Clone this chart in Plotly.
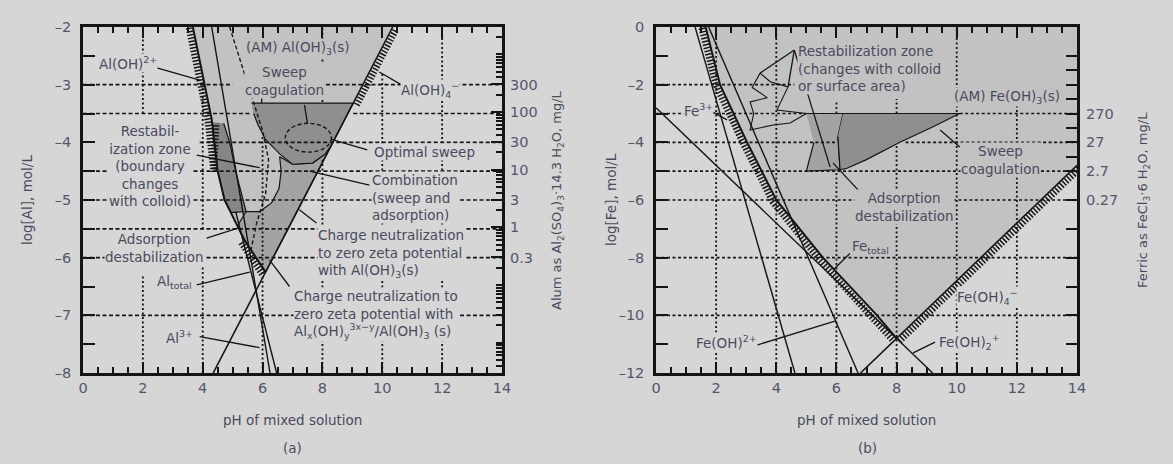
import numpy as np
import plotly.graph_objects as go

# ---------------- DATA ----------------
ph_ticks = [0, 2, 4, 6, 8, 10, 12, 14]
a_log_ticks = [-8, -7, -6, -5, -4, -3, -2]
b_log_ticks = [-12, -10, -8, -6, -4, -2, 0]

alum_mg_labels = [300, 100, 30, 10, 3, 1, 0.3]
ferric_mg_labels = [270, 27, 2.7, 0.27]
ALUM_MW = 594.4      # Al2(SO4)3.14.3H2O, 2 Al per formula unit
FERRIC_MW = 270.3    # FeCl3.6H2O

# panel (a) aluminium
a_left_ph = [3.67, 4.05, 4.30, 4.50, 4.73, 5.40, 6.10]
a_left_log = [-2.0, -3.0, -3.6, -4.5, -5.0, -5.7, -6.25]
a_aloh4_ph = [4.35, 10.35]
a_aloh4_log = [-8.0, -2.0]
a_al3_ph = [4.30, 6.25]
a_al3_log = [-2.0, -8.0]
a_altot_ph = [5.10, 6.47]
a_altot_log = [-5.2, -8.0]
a_sweep_ph = [5.63, 9.03, 8.30, 8.10, 7.67, 7.00, 6.57, 6.10, 5.85, 5.70]
a_sweep_log = [-3.32, -3.32, -4.05, -4.20, -4.36, -4.38, -4.20, -3.95, -3.70, -3.50]
a_comb_ph = [8.30, 6.10, 5.40, 5.16, 5.45, 5.90, 6.30, 6.55, 6.62, 6.57, 7.00, 7.67, 8.10]
a_comb_log = [-4.05, -6.25, -5.70, -5.45, -5.20, -5.20, -5.05, -4.80, -4.50, -4.25, -4.38, -4.36, -4.20]
a_restab_ph = [4.32, 4.50, 4.73, 4.95, 5.45, 5.10, 4.90, 4.70]
a_restab_log = [-3.67, -4.50, -5.00, -5.22, -5.20, -4.50, -4.00, -3.67]
a_cn_ph = [4.90, 5.50, 6.00, 6.20, 6.10, 5.80, 5.60]
a_cn_log = [-2.0, -3.0, -3.8, -4.3, -4.9, -5.4, -5.9]
a_opt_center = (7.53, -3.92)
a_opt_radius = (0.77, 0.25)

# panel (b) iron
b_left_ph = [1.65, 2.13, 3.03, 4.00, 5.55, 6.45, 7.35, 8.00]
b_left_log = [0.0, -2.0, -4.0, -6.0, -8.0, -9.0, -10.0, -10.8]
b_feoh4_ph = [6.80, 14.0]
b_feoh4_log = [-12.0, -4.8]
b_feoh2p_ph = [0.0, 9.2]
b_feoh2p_log = [-2.8, -12.0]
b_fe3_ph = [1.30, 4.62]
b_fe3_log = [0.0, -12.0]
b_feoh_ph = [1.75, 6.72]
b_feoh_log = [0.0, -12.0]
b_sweep_ph = [6.22, 10.10, 9.20, 8.11, 7.00, 6.35, 6.12, 6.05]
b_sweep_log = [-3.0, -3.0, -3.47, -4.0, -4.6, -4.9, -4.95, -3.8]
b_ads_ph = [5.00, 6.22, 6.05, 6.12, 5.00, 5.25]
b_ads_log = [-3.0, -3.0, -3.8, -4.95, -5.0, -4.0]
b_restab_ph = [3.46, 3.20, 3.70, 3.13, 3.25, 3.13, 3.90, 4.46, 5.00, 4.02, 4.39, 3.80, 3.46]
b_restab_log = [-1.6, -2.1, -2.45, -2.6, -3.0, -3.57, -3.4, -3.33, -3.0, -2.88, -2.08, -1.9, -1.6]

# ---------------- STYLE / LAYOUT ----------------
W, H = 1173, 464
BG = "#d6d6d6"
LIGHT = "#c2c2c2"
MID = "#a3a3a3"
DARK = "#8f8f8f"
INK = "#151515"
TXT = "#4a4a5c"
FONT = "DejaVu Sans"

PA = dict(l=83, r=502, t=27, b=373)
PB = dict(l=656, r=1077, t=27, b=373)


def dom(p):
    return [p["l"] / W, p["r"] / W], [1 - p["b"] / H, 1 - p["t"] / H]


SX = 30.0
SYA = (PA["b"] - PA["t"]) / 6.0
SYB = (PB["b"] - PB["t"]) / 12.0

fig = go.Figure()


def axes(ax):
    return ("x", "y") if ax == "a" else ("x2", "y2")


def add_line(xs, ys, ax, color=INK, width=1.3, dash="solid"):
    xa, ya = axes(ax)
    fig.add_trace(go.Scatter(x=list(xs), y=list(ys), xaxis=xa, yaxis=ya, mode="lines",
                             line=dict(color=color, width=width, dash=dash),
                             hoverinfo="skip", showlegend=False))


def add_fill(xs, ys, ax, color, lw=0.0):
    xa, ya = axes(ax)
    fig.add_trace(go.Scatter(x=list(xs), y=list(ys), xaxis=xa, yaxis=ya, mode="lines",
                             fill="toself", fillcolor=color,
                             line=dict(color=INK if lw > 0 else color, width=lw),
                             hoverinfo="skip", showlegend=False))


def offset(xs, ys, sx, sy, d):
    X = np.asarray(xs, float) * sx
    Y = np.asarray(ys, float) * sy
    n = len(X)
    ox, oy = [], []
    for i in range(n):
        if i == 0:
            dx, dy = X[1] - X[0], Y[1] - Y[0]
        elif i == n - 1:
            dx, dy = X[-1] - X[-2], Y[-1] - Y[-2]
        else:
            dx, dy = X[i + 1] - X[i - 1], Y[i + 1] - Y[i - 1]
        L = np.hypot(dx, dy)
        ox.append((X[i] + dy / L * d) / sx)
        oy.append((Y[i] - dx / L * d) / sy)
    return ox, oy


def hatch(xs, ys, ax):
    sy = SYA if ax == "a" else SYB
    hx, hy = offset(xs, ys, SX, sy, 4.0)
    add_line(hx, hy, ax, width=6.5, dash="1.5px,1.8px")


# ---------------- PANEL (a) ----------------
v_a_x = a_left_ph + [a_aloh4_ph[1]]
v_a_y = a_left_log + [a_aloh4_log[1]]
add_fill(v_a_x, v_a_y, "a", LIGHT)
add_fill(a_comb_ph, a_comb_log, "a", MID, 1.2)
add_fill(a_sweep_ph, a_sweep_log, "a", DARK, 1.2)
add_fill(a_restab_ph, a_restab_log, "a", "#868686", 1.2)

# grid (a)
a_hgrid = [(-3, 0, 5.0), (-3, 7.9, 14), (-3.5, 0, 5.63), (-3.5, 9.03, 14), (-4, 3.9, 14),
           (-4.5, 0, 14), (-5, 0, 14), (-5.5, 0, 14), (-6, 0, 14), (-7, 0, 14)]
a_vgrid = [(2, -3.5, -2), (2, -8, -6.3), (4, -8, -2.9), (6, -8, -3.9), (8, -8, -4.3),
           (8, -3.3, -2), (10, -8, -2.8), (12, -8, -2)]
for yv, x0, x1 in a_hgrid:
    add_line([x0, x1], [yv, yv], "a", width=1.6, dash="4px,2.5px")
for xv, y0, y1 in a_vgrid:
    add_line([xv, xv], [y0, y1], "a", width=1.8, dash="2px,2.5px")

add_line(a_left_ph, a_left_log, "a", width=2.0)
add_line(a_aloh4_ph, a_aloh4_log, "a", width=1.6)
add_line(a_al3_ph, a_al3_log, "a", width=1.4)
add_line(a_altot_ph, a_altot_log, "a", width=1.4)
add_line(a_cn_ph, a_cn_log, "a", width=1.4, dash="4px,2.5px")
hatch(a_left_ph[:4] + [4.32], a_left_log[:4] + [-3.67], "a")
hatch([5.40, 6.10], [-5.7, -6.25], "a")
hatch([9.03, 10.35], [-3.32, -2.0], "a")
fig.add_shape(type="circle", xref="x", yref="y",
              x0=a_opt_center[0] - a_opt_radius[0], x1=a_opt_center[0] + a_opt_radius[0],
              y0=a_opt_center[1] - a_opt_radius[1], y1=a_opt_center[1] + a_opt_radius[1],
              line=dict(color=INK, width=1.4, dash="4px,2.5px"))

# ---------------- PANEL (b) ----------------
v_b_x = b_left_ph + [14.0, 14.0]
v_b_y = b_left_log + [b_feoh4_log[1], 0.0]
add_fill(v_b_x, v_b_y, "b", LIGHT)
add_fill(b_ads_ph, b_ads_log, "b", MID, 1.2)
add_fill(b_sweep_ph, b_sweep_log, "b", DARK, 1.2)

b_hgrid = [(-2, 0, 4.6), (-3, 0, 5.0), (-3, 10.1, 14), (-4, 0, 6.0), (-4, 8.3, 14),
           (-5, 0, 14), (-6, 0, 14), (-8, 0, 14), (-10, 0, 14)]
b_vgrid = [(2, -12, 0), (4, -12, 0), (6, -12, -5.0), (6, -3.0, -2.6), (8, -12, -4.05),
           (8, -3.0, -2.5), (10, -12, 0), (12, -12, -2.4)]
for yv, x0, x1 in b_hgrid:
    add_line([x0, x1], [yv, yv], "b", width=1.6, dash="3px,2.5px")
for xv, y0, y1 in b_vgrid:
    add_line([xv, xv], [y0, y1], "b", width=1.8, dash="2px,2.5px")

add_line(b_restab_ph, b_restab_log, "b", width=1.1)
add_line(b_left_ph, b_left_log, "b", width=2.0)
add_line(b_feoh4_ph, b_feoh4_log, "b", width=1.6)
add_line(b_feoh2p_ph, b_feoh2p_log, "b", width=1.4)
add_line(b_fe3_ph, b_fe3_log, "b", width=1.4)
add_line(b_feoh_ph, b_feoh_log, "b", width=1.4)
hatch(b_left_ph, b_left_log, "b")
hatch([8.0, 14.0], [-10.8, -4.8], "b")

# invisible traces so that the right-hand (mg/L) axes are drawn
fig.add_trace(go.Scatter(x=[0, 14], y=[-8, -2], xaxis="x", yaxis="y3", mode="lines",
                         line=dict(width=0, color="rgba(0,0,0,0)"), hoverinfo="skip", showlegend=False))
fig.add_trace(go.Scatter(x=[0, 14], y=[-12, 0], xaxis="x2", yaxis="y4", mode="lines",
                         line=dict(width=0, color="rgba(0,0,0,0)"), hoverinfo="skip", showlegend=False))

# ---------------- LABELS ----------------
A_LABELS = [
    ("(AM) Al(OH)<sub>3</sub>(s)", 7.17, -2.36, "center", LIGHT),
    ("Sweep<br>coagulation", 6.73, -2.94, "center", LIGHT),
    ("Al(OH)<sup>2+</sup>", 1.52, -2.63, "center", BG),
    ("Al(OH)<sub>4</sub><sup>−</sup>", 11.6, -3.09, "center", BG),
    ("Optimal sweep", 11.4, -4.17, "center", BG),
    ("Combination<br>(sweep and<br>adsorption)", 9.63, -4.95, "left", BG),
    ("Charge neutralization<br>to zero zeta potential<br>with Al(OH)<sub>3</sub>(s)", 7.83, -5.93, "left", BG),
    ("Charge neutralization to<br>zero zeta potential with<br>Al<sub>x</sub>(OH)<sub>y</sub><sup>3x−y</sup>/Al(OH)<sub>3</sub> (s)",
     7.0, -6.99, "left", BG),
    ("Restabil-<br>ization zone<br>(boundary<br>changes<br>with colloid)", 2.23, -4.41, "center", BG),
    ("Adsorption<br>destabilization", 2.4, -5.83, "center", BG),
    ("Al<sub>total</sub>", 3.07, -6.42, "center", BG),
    ("Al<sup>3+</sup>", 3.23, -7.37, "center", BG),
]
A_LEADERS = [
    [(2.47, -2.71), (3.9, -2.92)], [(10.63, -3.0), (9.9, -2.78)], [(9.5, -4.13), (8.3, -3.95)],
    [(9.57, -4.74), (7.57, -4.5)], [(7.8, -5.4), (7.23, -5.17)], [(6.9, -6.5), (6.23, -6.04)],
    [(3.8, -4.22), (5.9, -4.44)], [(4.13, -5.66), (5.23, -5.48)], [(3.8, -6.47), (5.57, -6.25)],
    [(3.9, -7.37), (5.9, -7.56)], [(5.97, -3.15), (5.97, -3.32)], [(7.4, -3.35), (7.5, -3.67)],
]
B_LABELS = [
    ("Restabilization zone<br>(changes with colloid<br>or surface area)", 4.69, -1.43, "left", LIGHT),
    ("(AM) Fe(OH)<sub>3</sub>(s)", 11.67, -2.43, "center", LIGHT),
    ("Sweep<br>coagulation", 11.44, -4.61, "center", LIGHT),
    ("Adsorption<br>destabilization", 8.28, -6.24, "center", LIGHT),
    ("Fe<sup>3+</sup>", 1.4, -2.88, "center", BG),
    ("Fe<sub>total</sub>", 7.12, -7.63, "center", LIGHT),
    ("Fe(OH)<sup>2+</sup>", 2.36, -10.93, "center", BG),
    ("Fe(OH)<sub>4</sub><sup>−</sup>", 11.04, -9.37, "center", BG),
    ("Fe(OH)<sub>2</sub><sup>+</sup>", 10.44, -10.93, "center", BG),
]
B_LEADERS = [
    [(4.6, -0.8), (3.46, -1.6)], [(4.6, -0.8), (4.39, -2.08)], [(4.6, -0.8), (5.79, -4.86)],
    [(10.1, -4.16), (9.45, -3.57)], [(6.88, -5.83), (5.89, -4.72)], [(1.9, -2.95), (2.36, -3.22)],
    [(6.45, -7.85), (5.89, -8.43)], [(3.36, -11.03), (5.95, -10.2)], [(9.28, -10.93), (8.55, -11.3)],
]
for ax, leaders in (("a", A_LEADERS), ("b", B_LEADERS)):
    for (x0, y0), (x1, y1) in leaders:
        add_line([x0, x1], [y0, y1], ax, width=1.3)

for ax, labels in (("a", A_LABELS), ("b", B_LABELS)):
    xa, ya = axes(ax)
    for text, x, y, anchor, bg in labels:
        fig.add_annotation(text=text, x=x, y=y, xref=xa, yref=ya, showarrow=False,
                           xanchor=anchor, align=anchor, bgcolor=bg, borderpad=0,
                           font=dict(family=FONT, size=13.5, color=TXT))


def ptext(text, px, py, angle=0, size=13.5):
    fig.add_annotation(text=text, x=px / W, y=1 - py / H, xref="paper", yref="paper",
                       showarrow=False, textangle=angle, xanchor="center", yanchor="middle",
                       font=dict(family=FONT, size=size, color=TXT))


ptext("pH of mixed solution", 292, 420)
ptext("(a)", 292, 448)
ptext("pH of mixed solution", 866, 420)
ptext("(b)", 867, 448)
ptext("log[Al], mol/L", 27, 200, -90)
ptext("Alum as Al<sub>2</sub>(SO<sub>4</sub>)<sub>3</sub>·14.3 H<sub>2</sub>O, mg/L", 557, 200, -90, 13)
ptext("log[Fe], mol/L", 611, 200, -90)
ptext("Ferric as FeCl<sub>3</sub>·6 H<sub>2</sub>O, mg/L", 1143, 200, -90, 13)

# ---------------- AXES ----------------
tickfont = dict(family=FONT, size=14.5, color="#55556a")


def xax(p, anchor):
    d, _ = dom(p)
    return dict(domain=d, anchor=anchor, range=[0, 14], tickvals=ph_ticks, ticks="inside",
                ticklen=11, tickwidth=2, tickcolor=INK, showline=True, linewidth=2.5,
                linecolor=INK, mirror="ticks", showgrid=False, zeroline=False, tickfont=tickfont,
                minor=dict(ticks="inside", dtick=0.5, ticklen=6, tickwidth=2, tickcolor=INK),
                automargin=False, fixedrange=True)


def yax(p, anchor, rng, vals, minor_dtick):
    _, d = dom(p)
    return dict(domain=d, anchor=anchor, range=rng, tickvals=vals,
                ticktext=[("–" + str(abs(v))) if v < 0 else str(v) for v in vals],
                ticks="inside", ticklen=12, tickwidth=2, tickcolor=INK, showline=True,
                linewidth=2.5, linecolor=INK, mirror=True, showgrid=False, zeroline=False,
                tickfont=tickfont, ticklabelstandoff=6,
                minor=dict(ticks="inside", dtick=minor_dtick, ticklen=12, tickwidth=2, tickcolor=INK),
                automargin=False, fixedrange=True)


alum_off = np.log10(2.0 / (ALUM_MW * 1000.0))
alum_pos = [float(np.log10(m) + alum_off) for m in alum_mg_labels]
alum_minor = []
for k in range(-3, 4):
    for m in range(1, 10):
        v = float(np.log10(m * 10.0 ** k) + alum_off)
        if -8 < v < -2:
            alum_minor.append(v)

fer_off = np.log10(1.0 / (FERRIC_MW * 1000.0))
fer_pos = [float(np.log10(m) + fer_off) for m in ferric_mg_labels]
fer_minor = [-1, -2, -7, -8, -9, -10, -11, -1.5, -2.5, -3.5, -4.5]

fig.update_layout(
    width=W, height=H, margin=dict(l=0, r=0, t=0, b=0, pad=0, autoexpand=False),
    paper_bgcolor=BG, plot_bgcolor=BG, showlegend=False,
    xaxis=xax(PA, "y"), yaxis=yax(PA, "x", [-8, -2], a_log_ticks, 0.5),
    xaxis2=xax(PB, "y2"), yaxis2=yax(PB, "x2", [-12, 0], b_log_ticks, 1),
    yaxis3=dict(overlaying="y", anchor="x", side="right", range=[-8, -2], tickmode="array",
                tickvals=alum_pos, ticktext=[str(m) for m in alum_mg_labels], ticks="inside",
                ticklen=11, tickwidth=2, tickcolor=INK, showline=False, showgrid=False,
                zeroline=False, tickfont=tickfont, automargin=False, ticklabelstandoff=7,
                minor=dict(tickmode="array", tickvals=alum_minor, ticks="inside", ticklen=6,
                           tickwidth=1.6, tickcolor=INK),
                fixedrange=True),
    yaxis4=dict(overlaying="y2", anchor="x2", side="right", range=[-12, 0], tickmode="array",
                tickvals=fer_pos, ticktext=[str(m) for m in ferric_mg_labels], ticks="inside",
                ticklen=11, tickwidth=2, tickcolor=INK, showline=False, showgrid=False,
                zeroline=False, tickfont=tickfont, automargin=False, ticklabelstandoff=8,
                minor=dict(tickmode="array", tickvals=fer_minor, ticks="inside", ticklen=11,
                           tickwidth=2, tickcolor=INK),
                fixedrange=True),
)

fig.write_html("out.html", config={"displayModeBar": False},
               post_script="document.body.style.margin='0px';"
                           "document.body.style.background='" + BG + "';")
